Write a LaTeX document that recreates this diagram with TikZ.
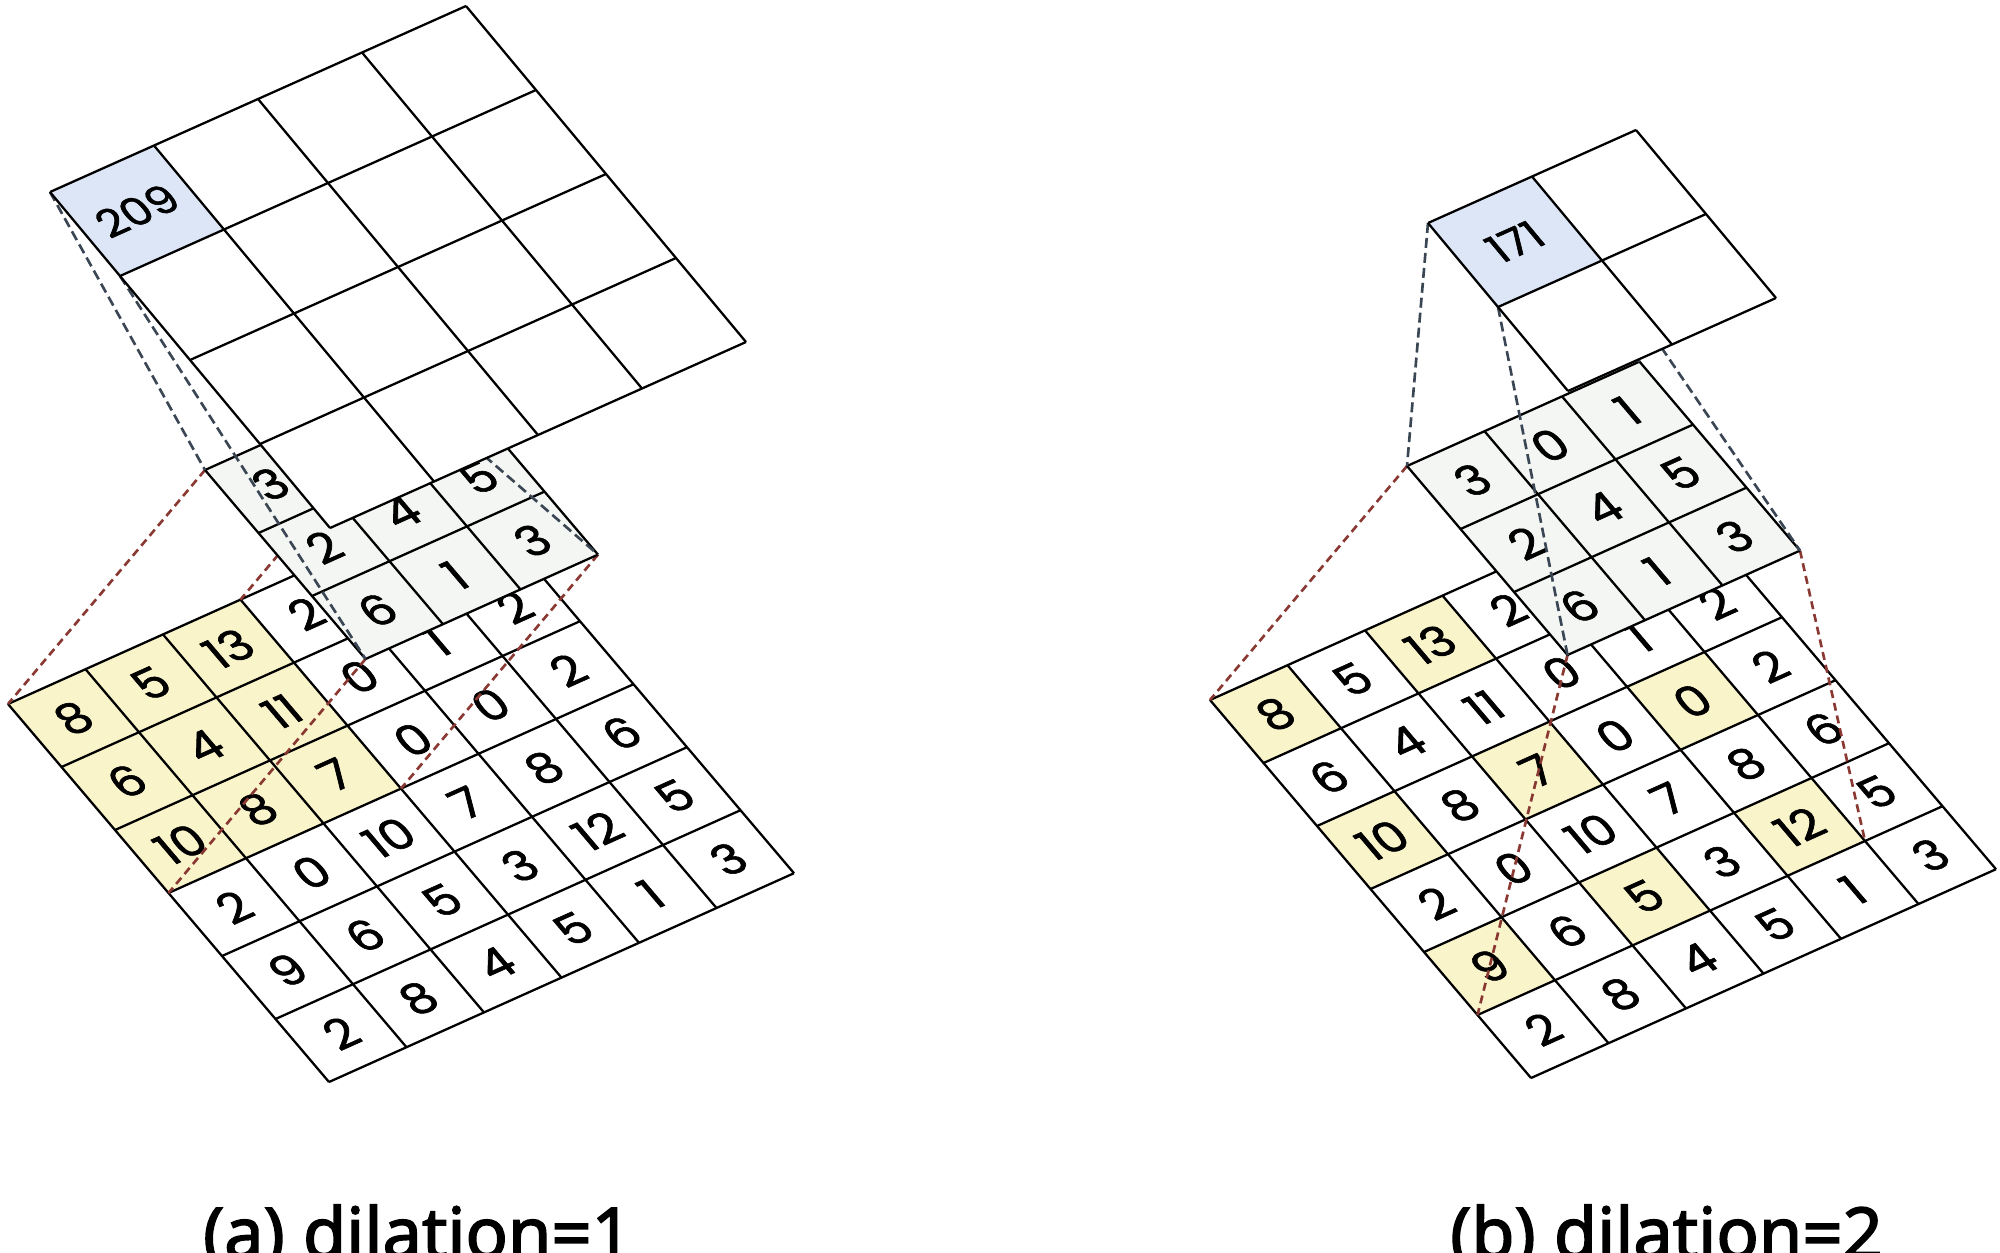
\documentclass[tikz,border=0pt]{standalone}
\usepackage{fontspec}
\newfontfamily\cellfont{Poppins}[FakeBold=1.4]
\newfontfamily\capfont{Noto Sans}[AutoFakeBold=2.2]
\definecolor{hiyellow}{HTML}{FAF4CB}
\definecolor{hiblue}{HTML}{DCE6F6}
\definecolor{kergray}{HTML}{F3F6F2}
\definecolor{linkred}{HTML}{8A3832}
\definecolor{linkgray}{HTML}{3A4654}
\pgfdeclarelayer{inlayer}
\pgfdeclarelayer{redlayer}
\pgfdeclarelayer{kerlayer}
\pgfdeclarelayer{graylayer}
\pgfsetlayers{inlayer,redlayer,kerlayer,graylayer,main}
\tikzset{
  inframe/.style={cm={0.775,0.348,-0.535,0.63,(#1)}},
  outframe/.style={cm={1.04,0.465,-0.70,0.84,(#1)}},
  cell/.style={draw=black, line width=0.65pt},
  num/.style={font=\cellfont\fontsize{16}{16}\selectfont, transform shape, inner sep=0pt},
  outnum/.style={font=\cellfont\fontsize{11}{11}\selectfont, transform shape, inner sep=0pt},
  redlink/.style={draw=linkred, line width=0.75pt, dash pattern=on 0.08cm off 0.05cm},
  graylink/.style={draw=linkgray, line width=0.75pt, dash pattern=on 0.1cm off 0.05cm},
  caption/.style={font=\capfont\bfseries\fontsize{20}{20}\selectfont, anchor=base, inner sep=0pt}
}

\begin{document}
\begin{tikzpicture}
 \useasboundingbox (0,0) rectangle (20,-12.52);

 % (a) dilation 1
 \begin{pgfonlayer}{inlayer}
 \begin{scope}[inframe={0.08,-7.04}]
  \fill[white] (0,0) rectangle (6,-6);
  \foreach \r/\c in {0/0,0/1,0/2,1/0,1/1,1/2,2/0,2/1,2/2}
   \fill[hiyellow] (\c,-\r) rectangle ++(1,-1);
  \foreach \i in {0,...,6} {
   \draw[cell] (\i,0) -- (\i,-6);
   \draw[cell] (0,-\i) -- (6,-\i);
  }
  \foreach \row [count=\r from 0] in {{8,5,13,2},{6,4,11,0,1,2},{10,8,7,0,0,2},{2,0,10,7,8,6},{9,6,5,3,12,5},{2,8,4,5,1,3}}
   \foreach \val [count=\c from 0] in \row
    \node[num] (ina-\r-\c) at (\c+0.5,-\r-0.5) {\val};
  \coordinate (ia-tl) at (0,0);
  \coordinate (ia-tr) at (3,0);
  \coordinate (ia-bl) at (0,-3);
  \coordinate (ia-br) at (3,-3);
 \end{scope}
 \end{pgfonlayer}

 \begin{pgfonlayer}{kerlayer}
 \begin{scope}[inframe={2.05,-4.70}]
  \fill[kergray] (0,0) rectangle (3,-3);
  \foreach \i in {0,...,3} {
   \draw[cell] (\i,0) -- (\i,-3);
   \draw[cell] (0,-\i) -- (3,-\i);
  }
  \foreach \row [count=\r from 0] in {{3},{2,4,5},{6,1,3}}
   \foreach \val [count=\c from 0] in \row
    \node[num] (kera-\r-\c) at (\c+0.5,-\r-0.5) {\val};
  \coordinate (ka-tl) at (0,0);
  \coordinate (ka-tr) at (3,0);
  \coordinate (ka-bl) at (0,-3);
  \coordinate (ka-br) at (3,-3);
 \end{scope}
 \end{pgfonlayer}

 \begin{scope}[outframe={0.50,-1.92}]
  \fill[white] (0,0) rectangle (4,-4);
  \fill[hiblue] (0,0) rectangle (1,-1);
  \foreach \i in {0,...,4} {
   \draw[cell] (\i,0) -- (\i,-4);
   \draw[cell] (0,-\i) -- (4,-\i);
  }
  \node[outnum] (outa) at (0.5,-0.5) {209};
  \coordinate (oa-tl) at (0,0);
  \coordinate (oa-tr) at (1,0);
  \coordinate (oa-bl) at (0,-1);
  \coordinate (oa-br) at (1,-1);
 \end{scope}

 % (b) dilation 2
 \begin{pgfonlayer}{inlayer}
 \begin{scope}[inframe={12.10,-7.00}]
  \fill[white] (0,0) rectangle (6,-6);
  \foreach \r/\c in {0/0,0/2,0/4,2/0,2/2,2/4,4/0,4/2,4/4}
   \fill[hiyellow] (\c,-\r) rectangle ++(1,-1);
  \foreach \i in {0,...,6} {
   \draw[cell] (\i,0) -- (\i,-6);
   \draw[cell] (0,-\i) -- (6,-\i);
  }
  \foreach \row [count=\r from 0] in {{8,5,13,2},{6,4,11,0,1,2},{10,8,7,0,0,2},{2,0,10,7,8,6},{9,6,5,3,12,5},{2,8,4,5,1,3}}
   \foreach \val [count=\c from 0] in \row
    \node[num] (inb-\r-\c) at (\c+0.5,-\r-0.5) {\val};
  \coordinate (ib-tl) at (0,0);
  \coordinate (ib-tr) at (5,0);
  \coordinate (ib-bl) at (0,-5);
  \coordinate (ib-br) at (5,-5);
 \end{scope}
 \end{pgfonlayer}

 \begin{pgfonlayer}{kerlayer}
 \begin{scope}[inframe={14.07,-4.66}]
  \fill[kergray] (0,0) rectangle (3,-3);
  \foreach \i in {0,...,3} {
   \draw[cell] (\i,0) -- (\i,-3);
   \draw[cell] (0,-\i) -- (3,-\i);
  }
  \foreach \row [count=\r from 0] in {{3,0,1},{2,4,5},{6,1,3}}
   \foreach \val [count=\c from 0] in \row
    \node[num] (kerb-\r-\c) at (\c+0.5,-\r-0.5) {\val};
  \coordinate (kb-tl) at (0,0);
  \coordinate (kb-tr) at (3,0);
  \coordinate (kb-bl) at (0,-3);
  \coordinate (kb-br) at (3,-3);
 \end{scope}
 \end{pgfonlayer}

 \begin{scope}[outframe={14.28,-2.23}]
  \fill[white] (0,0) rectangle (2,-2);
  \fill[hiblue] (0,0) rectangle (1,-1);
  \foreach \i in {0,...,2} {
   \draw[cell] (\i,0) -- (\i,-2);
   \draw[cell] (0,-\i) -- (2,-\i);
  }
  \node[outnum] (outb) at (0.5,-0.5) {171};
  \coordinate (ob-tl) at (0,0);
  \coordinate (ob-tr) at (1,0);
  \coordinate (ob-bl) at (0,-1);
  \coordinate (ob-br) at (1,-1);
 \end{scope}

 % dashed links
 \begin{pgfonlayer}{redlayer}
  \foreach \p in {tl,tr,bl,br} {
   \draw[redlink] (ka-\p) -- (ia-\p);
   \draw[redlink] (kb-\p) -- (ib-\p);
  }
 \end{pgfonlayer}
 \begin{pgfonlayer}{graylayer}
  \foreach \p in {tl,tr,bl,br} {
   \draw[graylink] (oa-\p) -- (ka-\p);
   \draw[graylink] (ob-\p) -- (kb-\p);
  }
 \end{pgfonlayer}

 \node[caption] (capa) at (4.175,-12.58) {(a) dilation=1};
 \node[caption] (capb) at (16.665,-12.58) {(b) dilation=2};
\end{tikzpicture}
\end{document}
